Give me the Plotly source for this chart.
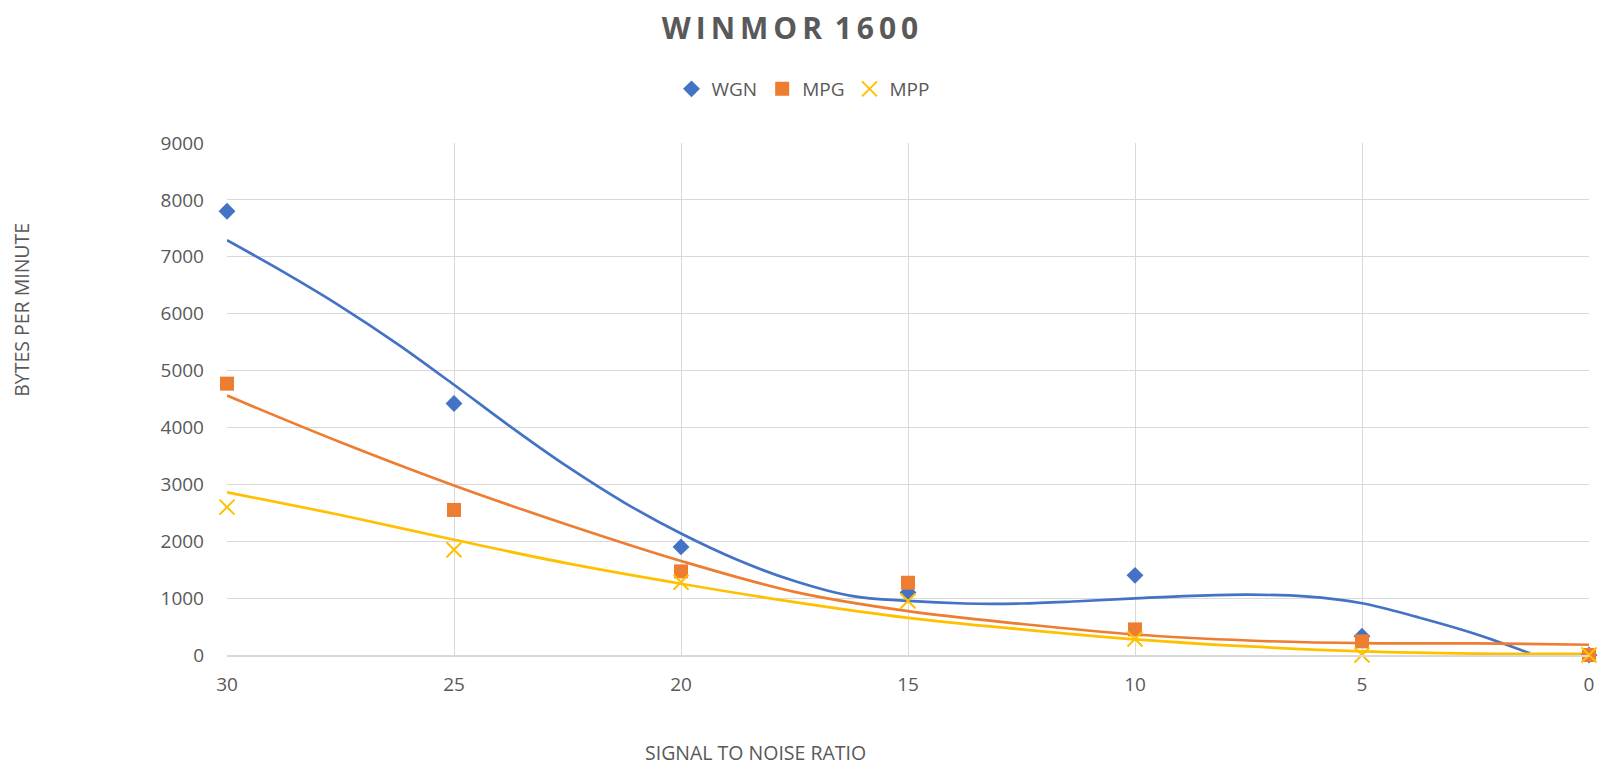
import plotly.graph_objects as go

# Measured data (signal-to-noise ratio vs bytes per minute)
snr = [30, 25, 20, 15, 10, 5, 0]
wgn = [7800, 4420, 1900, 1100, 1400, 330, 0]
mpg = [4770, 2550, 1470, 1270, 450, 240, 0]
mpp = [2600, 1850, 1280, 950, 280, 0, 0]

# Trendline values
wgn_trend_x = [30, 28.75, 27.5, 26.25, 25, 23.75, 22.5, 21.25, 20, 18.75, 17.5, 16.25,
               15, 13.75, 12.5, 11.25, 10, 8.75, 7.5, 6.25, 5, 3.75, 2.5, 1.3]
wgn_trend = [7290, 6730, 6130, 5470, 4750, 4010, 3310, 2680, 2135, 1670, 1300, 1040,
             950, 905, 905, 945, 995, 1040, 1060, 1030, 910, 660, 370, 30]
trend_x = [30, 27.5, 25, 22.5, 20, 17.5, 15, 12.5, 10, 7.5, 5, 2.5, 0]
mpg_trend = [4560, 3740, 2980, 2290, 1653, 1110, 771, 545, 360, 255, 208, 205, 180]
mpp_trend = [2860, 2460, 2026, 1610, 1253, 930, 653, 450, 275, 150, 63, 25, 20]

y_ticks = [0, 1000, 2000, 3000, 4000, 5000, 6000, 7000, 8000, 9000]
x_ticks = [30, 25, 20, 15, 10, 5, 0]

BLUE = "#4472C4"
ORANGE = "#ED7D31"
YELLOW = "#FFC000"
TXT = "#595959"
GRID = "#D9D9D9"
FONT = "Open Sans"

W, H = 1601, 766
L, R, T, B = 227, 12, 143, 110.5

fig = go.Figure()

for tx, ty, col in [(wgn_trend_x, wgn_trend, BLUE),
                    (trend_x, mpg_trend, ORANGE),
                    (trend_x, mpp_trend, YELLOW)]:
    fig.add_trace(go.Scatter(x=tx, y=ty, mode="lines",
                             line=dict(color=col, width=2.7, shape="spline", smoothing=1),
                             showlegend=False, hoverinfo="skip"))

fig.add_trace(go.Scatter(x=snr, y=wgn, mode="markers", name="WGN",
                         marker=dict(symbol="diamond", size=13, color=BLUE),
                         cliponaxis=False))
fig.add_trace(go.Scatter(x=snr, y=mpg, mode="markers", name="MPG",
                         marker=dict(symbol="square", size=14, color=ORANGE),
                         cliponaxis=False))
fig.add_trace(go.Scatter(x=snr, y=mpp, mode="markers", name="MPP",
                         marker=dict(symbol="x-thin", size=15, color=YELLOW,
                                     line=dict(width=2, color=YELLOW)),
                         cliponaxis=False))

title_text = "\u2009".join(list("WINMOR")) + " \u2009" + "\u2009".join(list("1600"))

fig.update_layout(
    width=W, height=H,
    paper_bgcolor="white", plot_bgcolor="white",
    margin=dict(l=L, r=R, t=T, b=B),
    font=dict(family=FONT, color=TXT, size=19),
    title=dict(text="<b>" + title_text + "</b>", x=790 / W, xref="container", xanchor="center",
               y=1 - 28 / H, yref="container", yanchor="middle",
               font=dict(family=FONT, size=30, color=TXT)),
    legend=dict(orientation="h", x=803 / W, xref="container", xanchor="center",
                y=1 - 89 / H, yref="container", yanchor="middle",
                font=dict(family=FONT, size=19, color=TXT),
                itemwidth=30, tracegroupgap=0),
    showlegend=True,
)

fig.update_xaxes(range=[30, 0], tickvals=x_ticks, ticktext=[str(v) for v in x_ticks],
                 showgrid=True, gridcolor=GRID, gridwidth=1,
                 showline=True, linecolor=GRID, linewidth=1.5, mirror=False,
                 zeroline=False, ticks="", ticklabelstandoff=11, automargin=False,
                 tickfont=dict(family=FONT, size=19, color=TXT))
fig.update_yaxes(range=[0, 9000], tickvals=y_ticks, ticktext=[str(v) for v in y_ticks],
                 showgrid=True, gridcolor=GRID, gridwidth=1,
                 zeroline=False, ticks="", showline=False,
                 ticklabelstandoff=22, automargin=False,
                 tickfont=dict(family=FONT, size=19, color=TXT))

pw, ph = W - L - R, H - T - B
fig.add_annotation(text="BYTES PER MINUTE", xref="paper", yref="paper",
                   x=(22 - L) / pw, y=(H - B - 310) / ph,
                   textangle=-90, showarrow=False, xanchor="center", yanchor="middle",
                   font=dict(family=FONT, size=19.5, color=TXT))
fig.add_annotation(text="SIGNAL TO NOISE RATIO", xref="paper", yref="paper",
                   x=(755 - L) / pw, y=(H - B - 753) / ph,
                   showarrow=False, xanchor="center", yanchor="middle",
                   font=dict(family=FONT, size=19.5, color=TXT))

fig.write_html("out.html", config={"displayModeBar": False},
               post_script="document.body.style.margin='0';document.body.style.overflow='hidden';")
